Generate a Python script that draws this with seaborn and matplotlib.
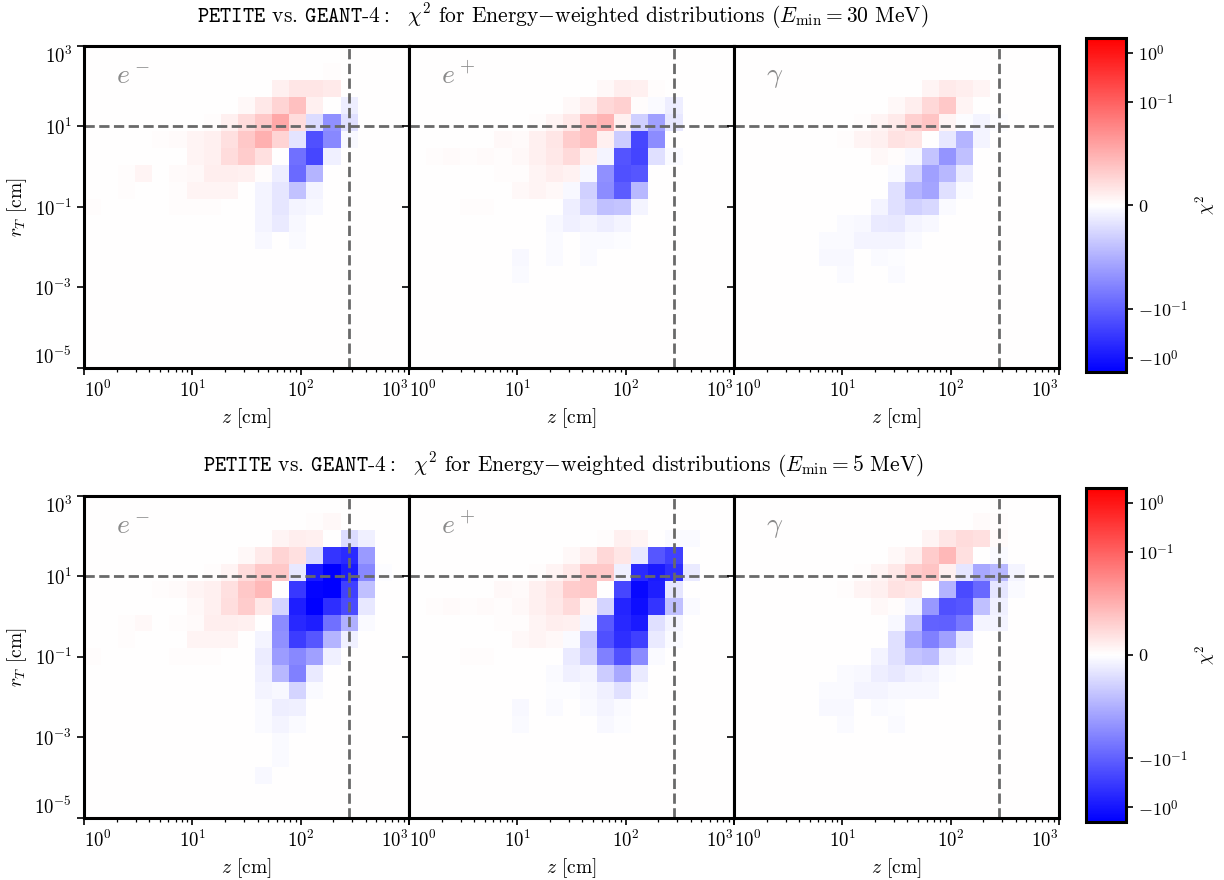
import numpy as np
import pandas as pd
import matplotlib
matplotlib.use("Agg")
import matplotlib.pyplot as plt
import matplotlib.colors as mcolors
from matplotlib.ticker import NullLocator
import seaborn as sns

# binning of the (z, r_T) histograms, in log10 units
z_bins, z_range = 19, (0, 3)
r_bins, r_range = 19, (-5, 3)

particles = [r"$e^-$", r"$e^+$", r"$\gamma$"]
e_min = ["30", "5"]
z_cut = 280   # cm
r_cut = 10    # cm

# chi^2 per cell; rows go from the top (large r_T) down, columns from small z to large z
Z = [0] * 19

top_em = [
    Z, [0,0,0,0,0,0,0,0,0,0,0,0,0,0,.0004,0,0,0,0],
    [0,0,0,0,0,0,0,0,0,0,0,.0018,.003,.003,.0024,0,0,0,0],
    [0,0,0,0,0,0,0,0,0,.0008,.0027,.0051,.0076,.0018,0,-.0021,0,0,0],
    [0,0,0,0,0,0,0,.0004,.0018,.0041,.0066,.0113,.0041,-.0041,-.024,-.0037,0,0,0],
    [0,0,0,0,.0003,.0006,.0014,.0018,.0037,.0066,.0095,.0051,-.0033,-.17,-.03,-.0008,0,0,0],
    [0,0,0,0,0,0,.0012,.0018,.0041,.0061,.0037,0,-.064,-.22,-.0018,0,0,0,0],
    [0,0,.0004,.0012,0,.0006,.0008,.002,.002,.0018,.0003,-.002,-.076,-.009,0,0,0,0,0],
    [0,0,.0004,0,0,.0004,.0012,.0014,.0014,0,-.0012,-.003,-.0074,-.0012,0,0,0,0,0],
    [.0004,0,0,0,0,.0004,.0004,.0004,0,0,-.0012,-.003,-.0012,-.0008,0,0,0,0,0],
    [0,0,0,0,0,0,0,0,0,0,-.0012,-.0024,-.0008,0,0,0,0,0,0],
    [0,0,0,0,0,0,0,0,0,0,-.0008,0,-.0006,0,0,0,0,0,0],
    Z, Z, Z, Z, Z, Z, Z,
]

top_ep = [
    Z, Z,
    [0,0,0,0,0,0,0,0,0,0,0,.0008,.002,.0018,.0004,0,0,0,0],
    [0,0,0,0,0,0,0,0,0,.0008,.002,.0047,.0057,.0004,-.0006,-.002,0,0,0],
    [0,0,0,0,0,0,0,.0004,.0012,.0028,.0076,.0089,.0018,-.0057,-.0144,-.0028,0,0,0],
    [0,0,0,0,0,.0008,.0006,.0018,.0031,.0061,.0076,.0018,-.0061,-.22,-.027,0,0,0,0],
    [0,.0004,.0006,.0004,.0006,.0004,.0008,.0018,.0028,.0045,.0018,-.0012,-.146,-.245,-.0037,-.0006,0,0,0],
    [0,0,0,0,0,.0004,.0004,.0012,.002,.0016,-.0008,-.024,-.17,-.135,0,0,0,0,0],
    [0,0,0,0,0,0,.0008,.0012,.0008,-.0008,-.0057,-.027,-.115,-.0084,0,0,0,0,0],
    [0,0,0,.0004,.0004,0,0,0,0,-.002,-.0047,-.0076,-.0071,-.0012,0,0,0,0,0],
    [0,0,0,0,0,0,0,0,-.0008,-.0018,-.0012,-.002,-.0012,0,0,0,0,0,0],
    [0,0,0,0,0,0,0,0,-.0006,0,-.0006,-.0006,-.0004,0,0,0,0,0,0],
    [0,0,0,0,0,0,-.0008,0,-.0006,0,-.0006,0,0,0,0,0,0,0,0],
    [0,0,0,0,0,0,-.0006,0,0,0,0,0,0,0,0,0,0,0,0],
    Z, Z, Z, Z, Z,
]

top_ga = [
    Z, Z,
    [0,0,0,0,0,0,0,0,0,0,0,.0012,.0024,.002,.0012,0,0,0,0],
    [0,0,0,0,0,0,0,0,0,.0008,.002,.0047,.0066,.0014,0,0,0,0,0],
    [0,0,0,0,0,0,0,.0003,.0012,.0024,.0057,.0071,.0014,-.0004,-.0014,-.0004,0,0,0],
    [0,0,0,0,0,0,.0004,.0012,.0018,.0034,.0031,0,-.0028,-.0089,-.0014,0,0,0,0],
    [0,0,0,0,0,0,0,0,.0008,.0004,-.0008,-.0071,-.021,-.0076,0,0,0,0,0],
    [0,0,0,0,0,0,0,0,0,-.0006,-.0051,-.0144,-.0086,-.0024,0,0,0,0,0],
    [0,0,0,0,0,0,0,0,0,-.0037,-.0089,-.0124,-.0037,-.0006,0,0,0,0,0],
    [0,0,0,0,0,0,0,0,-.0012,-.0037,-.0057,-.0047,-.0006,0,0,0,0,0,0],
    [0,0,0,0,0,0,-.0006,-.0008,-.0024,-.0028,-.0014,-.0008,0,0,0,0,0,0,0],
    [0,0,0,0,0,-.0006,-.0006,-.0012,-.0014,-.0012,-.0006,0,0,0,0,0,0,0,0],
    [0,0,0,0,0,-.0008,-.0008,0,-.0006,-.0004,0,0,0,0,0,0,0,0,0],
    [0,0,0,0,0,0,-.0006,0,0,-.0006,0,0,0,0,0,0,0,0,0],
    Z, Z, Z, Z, Z,
]

bot_em = [
    Z, [0,0,0,0,0,0,0,0,0,0,0,0,0,.0004,.0008,0,0,0,0],
    [0,0,0,0,0,0,0,0,0,0,0,.0012,.002,.0018,0,-.0041,-.0018,0,0],
    [0,0,0,0,0,0,0,0,0,.0008,.0024,.0051,.0037,-.0045,-.39,-.55,-.017,0,0],
    [0,0,0,0,0,0,0,.0004,.0014,.0041,.0066,.0066,-.0028,-.89,-2,-.89,-.03,-.0004,0],
    [0,0,0,0,.0003,.0006,.0014,.0018,.0037,.0066,.0086,0,-.355,-1.7,-2,-.28,-.0076,0,0],
    [0,0,0,0,0,0,.0008,.0018,.004,.0061,.0028,-.0051,-.75,-2,-.46,-.2,-.0028,0,0],
    [0,0,.0004,.0008,0,.0004,.0006,.002,.002,.0018,0,-.027,-.58,-.75,-.064,-.0095,-.0006,0,0],
    [0,0,.0004,0,0,0,.0012,.0012,.0012,0,-.0012,-.024,-.315,-.135,-.0089,-.0018,0,0,0],
    [.0004,0,0,0,0,.0004,.0004,.0004,0,0,-.0022,-.0163,-.03,-.0144,-.0018,0,0,0,0],
    [0,0,0,0,0,0,0,0,0,0,-.0018,-.0086,-.039,-.0024,0,0,0,0,0],
    [0,0,0,0,0,0,0,0,0,0,-.0012,-.0008,-.0051,-.0006,0,0,0,0,0],
    [0,0,0,0,0,0,0,0,0,0,-.0006,-.002,-.0018,0,0,0,0,0,0],
    [0,0,0,0,0,0,0,0,0,0,-.0006,-.0012,-.0006,0,0,0,0,0,0],
    [0,0,0,0,0,0,0,0,0,0,0,-.0006,0,0,0,0,0,0,0],
    [0,0,0,0,0,0,0,0,0,0,0,-.0006,0,0,0,0,0,0,0],
    [0,0,0,0,0,0,0,0,0,0,-.0008,0,0,0,0,0,0,0,0],
    Z, Z,
]

bot_ep = [
    Z, Z,
    [0,0,0,0,0,0,0,0,0,0,0,.0004,.0018,.0012,0,-.0006,-.0006,0,0],
    [0,0,0,0,0,0,0,0,0,.0008,.002,.0047,.0031,-.0028,-.135,-.28,0,0,0],
    [0,0,0,0,0,0,0,.0004,.0012,.0028,.0066,.0066,-.0018,-.55,-.89,-.46,-.0024,0,0],
    [0,0,0,0,0,.0008,.0006,.0018,.0031,.0061,.0066,0,-.22,-1.48,-.75,-.0031,0,0,0],
    [0,.0004,.0006,.0004,.0006,.0004,.0008,.0018,.0028,.0045,.0014,-.0051,-.64,-1.23,-.39,-.0076,-.0006,0,0],
    [0,0,0,0,0,.0004,.0004,.0012,.002,.0018,-.0012,-.125,-.58,-.85,-.0037,-.0012,0,0,0],
    [0,0,0,0,0,0,.0008,.0012,.0008,-.0006,-.0066,-.17,-.46,-.28,-.0024,-.0006,0,0,0],
    [0,0,0,.0004,.0004,0,0,0,0,-.0024,-.0057,-.039,-.17,-.028,-.0006,0,0,0,0],
    [0,0,0,0,0,0,0,0,-.0006,-.0018,-.0014,-.0061,-.0113,-.0024,0,0,0,0,0],
    [0,0,0,0,0,0,0,0,-.0004,-.0004,-.0008,-.0018,-.0037,-.0006,0,0,0,0,0],
    [0,0,0,0,0,0,-.0008,0,-.0006,0,-.0006,-.0012,-.0006,0,0,0,0,0,0],
    [0,0,0,0,0,0,-.0006,0,0,0,0,-.0008,-.0004,0,0,0,0,0,0],
    Z, Z, Z, Z, Z,
]

bot_ga = [
    Z, [0,0,0,0,0,0,0,0,0,0,0,0,0,0,.0006,.0004,0,0,0],
    [0,0,0,0,0,0,0,0,0,0,0,.0012,.0031,.0042,.0037,.0006,0,0,0],
    [0,0,0,0,0,0,0,0,0,.0008,.002,.0061,.0086,.0037,0,-.0006,0,0,0],
    [0,0,0,0,0,0,0,.0003,.0012,.0028,.0061,.0071,.0018,-.0031,-.0113,-.0086,-.0012,0,0],
    [0,0,0,0,0,0,.0004,.0012,.0018,.0034,.0031,0,-.0089,-.204,-.081,-.0031,-.0006,0,0],
    [0,0,0,0,0,0,0,0,.0008,.0004,-.0012,-.0185,-.17,-.135,-.0076,-.0018,0,0,0],
    [0,0,0,0,0,0,0,0,0,-.0008,-.0071,-.098,-.104,-.0495,-.0012,-.0012,0,0,0],
    [0,0,0,0,0,0,0,0,0,-.0037,-.0124,-.039,-.0144,-.0031,0,0,0,0,0],
    [0,0,0,0,0,0,0,0,-.0012,-.0037,-.0071,-.0081,-.002,-.0008,0,0,0,0,0],
    [0,0,0,0,0,0,-.0006,-.0008,-.002,-.0028,-.0018,-.0012,-.0004,0,0,0,0,0,0],
    [0,0,0,0,0,-.0006,-.0006,-.0012,-.0012,-.0008,-.0008,-.0008,0,0,0,0,0,0,0],
    [0,0,0,0,0,-.0008,-.0008,0,-.0006,-.0004,0,0,0,0,0,0,0,0,0],
    [0,0,0,0,0,0,-.0006,0,0,-.0006,0,0,0,0,0,0,0,0,0],
    Z, Z, Z, Z, Z,
]

grids = [[top_em, top_ep, top_ga], [bot_em, bot_ep, bot_ga]]

z_edges = np.logspace(*z_range, z_bins + 1)
r_edges = np.logspace(*r_range, r_bins + 1)
z_mid = np.sqrt(z_edges[:-1] * z_edges[1:])
r_mid = np.sqrt(r_edges[:-1] * r_edges[1:])[::-1]


def to_frame(grid):
    vals = np.asarray(grid, dtype=float)
    assert vals.shape == (r_bins, z_bins), vals.shape
    zz, rr = np.meshgrid(z_mid, r_mid)
    return pd.DataFrame({"z": zz.ravel(), "r": rr.ravel(), "chi2": vals.ravel()})


sns.set_style("ticks")
plt.rcParams.update({
    "font.family": "serif",
    "font.serif": ["cmr10"],
    "mathtext.fontset": "cm",
    "axes.formatter.use_mathtext": True,
    "axes.unicode_minus": False,
    "axes.edgecolor": "black",
    "axes.labelcolor": "black",
    "text.color": "black",
    "xtick.color": "black",
    "ytick.color": "black",
    "axes.linewidth": 2.2,
    "xtick.major.width": 1.2,
    "ytick.major.width": 1.2,
    "xtick.minor.width": 0.9,
    "xtick.major.size": 5,
    "ytick.major.size": 5,
    "xtick.minor.size": 3,
    "xtick.labelsize": 13.5,
    "ytick.labelsize": 13.5,
    "axes.labelsize": 14,
})

norm = mcolors.SymLogNorm(linthresh=0.01, linscale=1.0, vmin=-2, vmax=2, base=10)

fig = plt.figure(figsize=(12.24, 8.8), dpi=100)

row_bottom = [0.5818, 0.0705]
cbar_bottom = [0.577, 0.066]
title_y = [0.982, 0.472]

for row in range(2):
    first = None
    for k in range(3):
        ax = fig.add_axes([0.0686 + k * 0.2655, row_bottom[row], 0.2655, 0.366], sharey=first)
        if first is None:
            first = ax
        sns.histplot(data=to_frame(grids[row][k]), x="z", y="r", weights="chi2",
                     bins=(z_bins, r_bins), binrange=(z_range, r_range),
                     log_scale=True, thresh=None, cmap="bwr", ax=ax)
        ax.collections[-1].set_norm(norm)

        ax.axhline(r_cut, color="dimgray", ls="--", lw=2)
        ax.axvline(z_cut, color="dimgray", ls="--", lw=2)
        ax.set_xlim(1, 1e3)
        ax.set_ylim(1e-5, 1e3)
        ax.set_xticks([1, 1e1, 1e2, 1e3])
        ax.set_yticks([1e-5, 1e-3, 1e-1, 1e1, 1e3])
        ax.yaxis.set_minor_locator(NullLocator())
        # keep the end labels inside the panel, so neighbouring panels don't collide
        xt = ax.xaxis.get_major_ticks()
        xt[0].label1.set_horizontalalignment("left")
        xt[-1].label1.set_horizontalalignment("right")
        ax.set_xlabel(r"$z$ [cm]")
        if k == 0:
            ax.set_ylabel(r"$r_T$ [cm]")
            yt = ax.yaxis.get_major_ticks()
            yt[0].label1.set_verticalalignment("bottom")
            yt[-1].label1.set_verticalalignment("top")
        else:
            ax.set_ylabel("")
            ax.tick_params(axis="y", labelleft=False)
        ax.text(0.1, 0.905, particles[k], transform=ax.transAxes, color="#8a8a8a",
                fontsize=20, va="center")

    fig.text(0.46, title_y[row],
             r"$\mathtt{PETITE}$ vs. $\mathtt{GEANT}$-$\mathtt{4}:$  $\chi^2$ for "
             r"Energy$-$weighted distributions ($E_{\rm min} = " + e_min[row] + r"$ MeV)",
             ha="center", va="center", fontsize=15.5)

    cax = fig.add_axes([0.887, cbar_bottom[row], 0.0327, 0.3795])
    sm = plt.cm.ScalarMappable(norm=norm, cmap="bwr")
    cb = fig.colorbar(sm, cax=cax)
    cb.set_ticks([-1, -0.1, 0, 0.1, 1])
    cb.set_ticklabels([r"$-10^{0}$", r"$-10^{-1}$", r"$0$", r"$10^{-1}$", r"$10^{0}$"])
    cb.ax.yaxis.set_minor_locator(NullLocator())
    cb.ax.tick_params(labelsize=13, width=1.2, length=5)
    cb.outline.set_linewidth(2.2)
    cb.set_label(r"$\chi^2$", fontsize=13, labelpad=4)

fig.savefig("out.png", dpi=100)
